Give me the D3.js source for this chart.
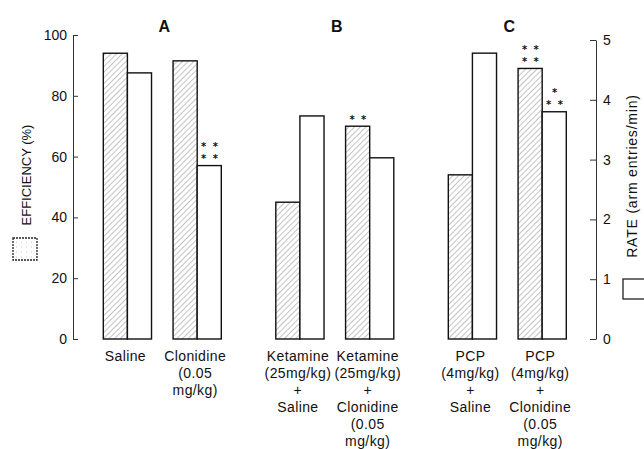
<!DOCTYPE html>
<html>
<head>
<meta charset="utf-8">
<script src="https://cdn.jsdelivr.net/npm/d3@7"></script>
<style>
  html, body { margin: 0; padding: 0; background: #fff; }
  svg { display: block; font-family: "Liberation Sans", Arial, Helvetica, sans-serif; }
</style>
</head>
<body>
<svg id="chart" width="644" height="449"></svg>
<script>
// ---- data ----
const groups = ["A", "B", "C"];
const conditions = [
  ["Saline"],
  ["Clonidine", "(0.05", "mg/kg)"],
  ["Ketamine", "(25mg/kg)", "+", "Saline"],
  ["Ketamine", "(25mg/kg)", "+", "Clonidine", "(0.05", "mg/kg)"],
  ["PCP", "(4mg/kg)", "+", "Saline"],
  ["PCP", "(4mg/kg)", "+", "Clonidine", "(0.05", "mg/kg)"]
];
const conditionGroup = ["A", "A", "B", "B", "C", "C"];
const efficiency = [94, 91.5, 45, 70, 54, 89];        // %
const rate = [4.45, 2.9, 3.73, 3.03, 4.78, 3.8];       // arm entries/min
// significance marks: condition index, series, stacked rows (top to bottom)
const marks = [
  { c: 1, s: "rate", rows: ["* *", "* *"] },
  { c: 3, s: "eff",  rows: ["* *"] },
  { c: 5, s: "eff",  rows: ["* *", "* *"] },
  { c: 5, s: "rate", rows: ["*", "* *"] }
];
const effTicks = [0, 20, 40, 60, 80, 100];
const rateTicks = [0, 1, 2, 3, 4, 5];

// ---- layout ----
const svg = d3.select("#chart");
const base = 339;

const yEff = d3.scaleLinear().domain([0, 100]).range([base, 35]);
const yRate = d3.scaleLinear().domain([0, 5]).range([base, 40]);

const xGroup = d3.scaleBand().domain(groups).range([103.3, 566.3]).paddingInner(0.316).paddingOuter(0);
const xCond = d3.scaleBand().domain([0, 1]).range([0, xGroup.bandwidth()]).paddingInner(0.309).paddingOuter(0);
const xSeries = d3.scaleBand().domain(["eff", "rate"]).range([0, xCond.bandwidth()]);

const condIndexInGroup = conditions.map((_, i) => conditionGroup.slice(0, i).filter(g => g === conditionGroup[i]).length);
const condX = i => xGroup(conditionGroup[i]) + xCond(condIndexInGroup[i]);

// hatch pattern for the efficiency bars
const defs = svg.append("defs");
const pat = defs.append("pattern")
  .attr("id", "hatch").attr("patternUnits", "userSpaceOnUse")
  .attr("width", 4).attr("height", 4)
  .attr("patternTransform", "rotate(45)");
pat.append("rect").attr("width", 4).attr("height", 4).attr("fill", "#fff");
pat.append("line").attr("x1", 0).attr("y1", 0).attr("x2", 0).attr("y2", 4)
  .attr("stroke", "#6a6a6a").attr("stroke-width", 0.8);

const stip = defs.append("pattern")
  .attr("id", "stipple").attr("patternUnits", "userSpaceOnUse")
  .attr("width", 5).attr("height", 5);
stip.append("rect").attr("width", 5).attr("height", 5).attr("fill", "#fff");
stip.append("circle").attr("cx", 1.5).attr("cy", 2).attr("r", 0.45).attr("fill", "#888");

// ---- bars ----
const bars = svg.append("g");
conditions.forEach((_, i) => {
  const x0 = condX(i);
  bars.append("rect")
    .attr("x", x0 + xSeries("eff")).attr("y", yEff(efficiency[i]))
    .attr("width", xSeries.bandwidth()).attr("height", base - yEff(efficiency[i]))
    .attr("fill", "url(#hatch)").attr("stroke", "#111").attr("stroke-width", 1.4);
  bars.append("rect")
    .attr("x", x0 + xSeries("rate")).attr("y", yRate(rate[i]))
    .attr("width", xSeries.bandwidth()).attr("height", base - yRate(rate[i]))
    .attr("fill", "#fff").attr("stroke", "#111").attr("stroke-width", 1.4);
});

// ---- significance asterisks, stacked rows above each bar ----
marks.forEach(m => {
  const top = m.s === "eff" ? yEff(efficiency[m.c]) : yRate(rate[m.c]);
  const cx = condX(m.c) + xSeries(m.s) + xSeries.bandwidth() / 2 + 1;
  const n = m.rows.length;
  m.rows.forEach((r, k) => {
    svg.append("text")
      .attr("x", cx).attr("y", top - 3.3 - (n - 1 - k) * 12)
      .attr("text-anchor", "middle")
      .attr("font-family", "'DejaVu Sans', sans-serif")
      .attr("font-size", 10).attr("font-weight", "bold")
      .attr("fill", "#111").attr("letter-spacing", 1.5)
      .text(r);
  });
});

// ---- condition labels ----
conditions.forEach((lines, i) => {
  const cx = condX(i) + xCond.bandwidth() / 2 - 2;
  const t = svg.append("text").attr("text-anchor", "middle")
    .attr("font-size", 14).attr("fill", "#111").attr("letter-spacing", 0.4);
  lines.forEach((l, k) => {
    t.append("tspan").attr("x", cx).attr("y", 361 + k * 17).text(l);
  });
});

// ---- panel letters ----
svg.append("g").selectAll("text").data(groups).join("text")
  .attr("x", g => xGroup(g) + xGroup.bandwidth() / 2 + 2)
  .attr("y", 32)
  .attr("text-anchor", "middle").attr("font-size", 16).attr("font-weight", "bold")
  .attr("fill", "#111").text(g => g);

// ---- axes ----
const axL = svg.append("g").attr("transform", "translate(73,0)")
  .call(d3.axisLeft(yEff).tickValues(effTicks).tickSizeInner(-5).tickSizeOuter(0).tickPadding(6));
const axR = svg.append("g").attr("transform", "translate(596,0)")
  .call(d3.axisRight(yRate).tickValues(rateTicks).tickFormat(d3.format("d")).tickSizeInner(-6).tickSizeOuter(0).tickPadding(7));
[axL, axR].forEach(ax => {
  ax.attr("font-family", null).attr("font-size", 14);
  ax.selectAll("path, line").attr("stroke", "#333").attr("stroke-width", 1);
  ax.selectAll("text").attr("fill", "#111");
});

// ---- axis titles with legend swatches ----
svg.append("text")
  .attr("transform", "translate(31,175) rotate(-90)")
  .attr("text-anchor", "middle").attr("font-size", 13).attr("fill", "#111")
  .text("EFFICIENCY (%)");
svg.append("rect").attr("x", 13).attr("y", 238).attr("width", 24).attr("height", 22)
  .attr("fill", "url(#stipple)").attr("stroke", "#222").attr("stroke-width", 1.3)
  .attr("stroke-dasharray", "2,1");

svg.append("text")
  .attr("transform", "translate(637,176) rotate(-90)")
  .attr("text-anchor", "middle").attr("font-size", 14).attr("fill", "#111")
  .attr("letter-spacing", 0.8)
  .text("RATE (arm entries/min)");
svg.append("rect").attr("x", 623).attr("y", 279).attr("width", 30).attr("height", 20)
  .attr("fill", "#fff").attr("stroke", "#222").attr("stroke-width", 1.3);
</script>
</body>
</html>
